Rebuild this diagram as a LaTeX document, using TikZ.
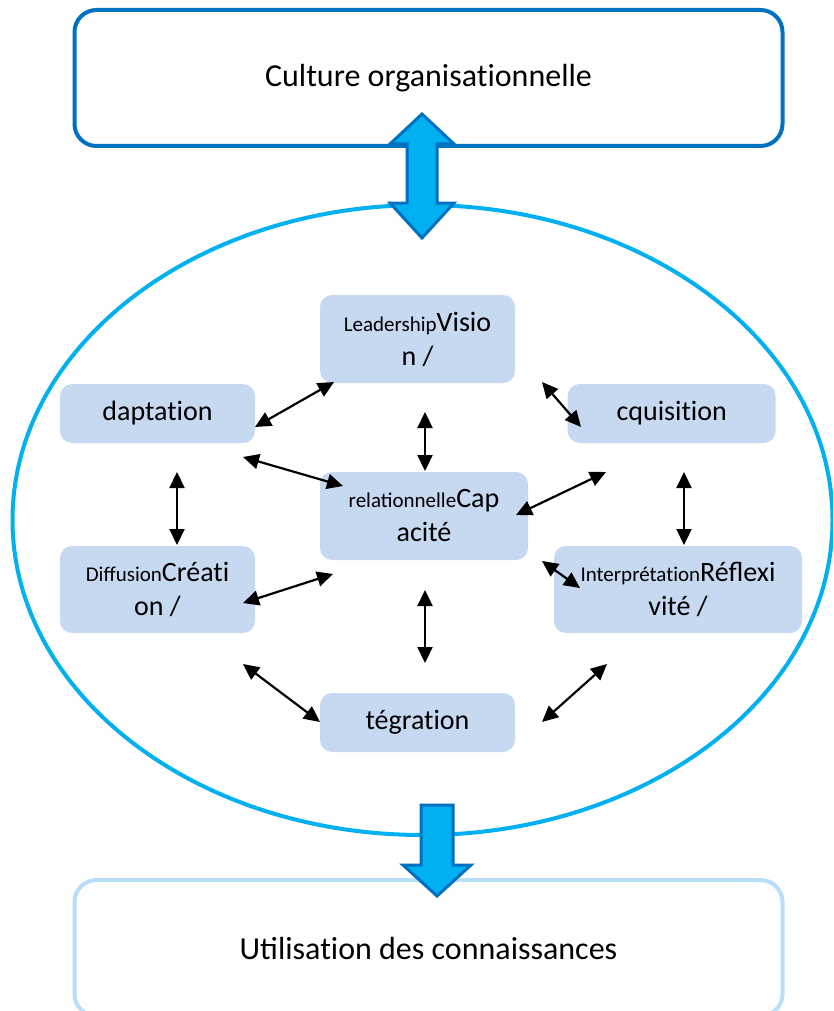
\documentclass[tikz,border=0pt]{standalone}
\usepackage{fontspec}
\setmainfont{Carlito}
\usetikzlibrary{arrows.meta}
\definecolor{darkblue}{RGB}{0,112,192}
\definecolor{cyanblue}{RGB}{0,176,240}
\definecolor{paleblue}{RGB}{184,222,250}
\definecolor{boxfill}{RGB}{198,217,241}
\newcommand{\sm}[1]{{\fontsize{21}{25}\selectfont #1}}
\newcommand{\tI}{t\kern0pt i}
\tikzset{
  outerbox/.style={draw, line width=4pt, rounded corners=22pt},
  innerbox/.style={fill=boxfill, rounded corners=12pt, inner sep=0pt, align=center,
    font=\fontsize{28}{34}\selectfont},
  link/.style={line width=2.2pt, {Triangle[length=16pt,width=15pt]}-{Triangle[length=16pt,width=15pt]}},
  blockarrow/.style={fill=cyanblue, draw=darkblue, line width=3pt, line join=miter},
}
\begin{document}
\begin{tikzpicture}[x=1pt,y=-1pt]
\useasboundingbox (0,0) rectangle (833,1011);
\clip (0,0) rectangle (833,1011);
% big ellipse
\draw[cyanblue, line width=4pt] (422.5,520) ellipse [x radius=410, y radius=315];
% top box
\node[outerbox, draw=darkblue, minimum width=708pt, minimum height=136pt,
  font=\fontsize{32}{38}\selectfont] (culture) at (428.5,78) {Culture organisa\tI onnelle};
% bottom box
\node[outerbox, draw=paleblue, minimum width=708pt, minimum height=136pt,
  font=\fontsize{32}{38}\selectfont] (utilisation) at (428.5,948) {Utilisa\tI on des connaissances};
% inner boxes
\node[innerbox, minimum width=195pt, minimum height=88pt] (vision) at (417.5,339) {\sm{Leadership}Visio\\n /};
\node[innerbox, minimum width=195pt, minimum height=59pt] (adaptation) at (157.5,413.5) {dapta\tI on};
\node[innerbox, minimum width=208pt, minimum height=59pt] (acquisition) at (671.7,413.5) {cquisi\tI on};
\node[innerbox, minimum width=208pt, minimum height=88pt] (capacite) at (424,516) {\sm{relationnelle}Cap\\acité};
\node[innerbox, minimum width=195pt, minimum height=87pt] (creation) at (157.5,589.5) {\sm{Diffusion}Créa\tI\\on /};
\node[innerbox, minimum width=248pt, minimum height=87pt] (reflexivite) at (678,589.5) {\sm{Interpréta\tI on}Réflexi\\vité /};
\node[innerbox, minimum width=195pt, minimum height=59pt] (integration) at (417.5,722.5) {tégra\tI on};
% connector end points
\coordinate (l1a) at (334,382);  \coordinate (l1b) at (255,427);
\coordinate (l2a) at (542,382);  \coordinate (l2b) at (581,427);
\coordinate (l3a) at (425,412);  \coordinate (l3b) at (425,471);
\coordinate (l4a) at (243,457);  \coordinate (l4b) at (343,486);
\coordinate (l5a) at (606,472);  \coordinate (l5b) at (516,515);
\coordinate (l6a) at (177,472);  \coordinate (l6b) at (177,545);
\coordinate (l7a) at (684,472);  \coordinate (l7b) at (684,545);
\coordinate (l8a) at (243,603);  \coordinate (l8b) at (333,574);
\coordinate (l9a) at (542,561);  \coordinate (l9b) at (580,588);
\coordinate (l10a) at (425,590); \coordinate (l10b) at (425,663);
\coordinate (l11a) at (243,664); \coordinate (l11b) at (320,722);
\coordinate (l12a) at (607,664); \coordinate (l12b) at (542,722);
\foreach \i in {1,...,12} {\draw[link] (l\i a) -- (l\i b);}
% top double block arrow
\draw[blockarrow] (422,114) -- (454,144) -- (437,144) -- (437,203) -- (454,203) -- (422,238)
  -- (390,203) -- (407,203) -- (407,144) -- (390,144) -- cycle;
% bottom block arrow
\draw[blockarrow] (421,805) -- (453,805) -- (453,865) -- (471,865) -- (437,896)
  -- (403,865) -- (421,865) -- cycle;
\end{tikzpicture}
\end{document}
